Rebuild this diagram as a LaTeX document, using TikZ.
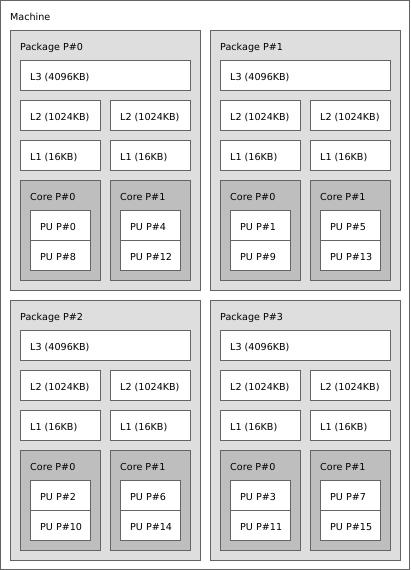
\documentclass[tikz,border=0pt]{standalone}
\usepackage{fontspec}
\setmainfont{DejaVu Sans}
\definecolor{pkgfill}{RGB}{222,222,222}
\definecolor{corefill}{RGB}{190,190,190}
\definecolor{edge}{RGB}{100,100,100}
\tikzset{
  obj/.style={draw=edge, line width=1pt, rectangle, inner sep=0pt, outer sep=0pt, anchor=north west},
  machinebox/.style={obj, fill=white, minimum width=409pt, minimum height=569pt},
  pkgbox/.style={obj, fill=pkgfill, minimum width=190pt, minimum height=260pt},
  l3box/.style={obj, fill=white, minimum width=170pt, minimum height=30pt},
  cachebox/.style={obj, fill=white, minimum width=80pt, minimum height=30pt},
  corebox/.style={obj, fill=corefill, minimum width=80pt, minimum height=100pt},
  pubox/.style={obj, fill=white, minimum width=60pt, minimum height=30pt},
  lbl/.style={anchor=base west, inner sep=0pt, font=\fontsize{9.6}{11}\selectfont, text=black}
}
\newcommand\drawcore[5]{% #1 name, #2 X, #3 Y, #4 core num, #5 first PU
  \node[corebox] (#1) at (#2+0.5,#3+0.5) {};
  \node[lbl] (#1-t) at (#2+10,#3+20) {Core P\##4};
  \node[pubox] (#1-pua) at (#2+10.5,#3+30.5) {};
  \node[lbl] (#1-pua-t) at (#2+20,#3+50) {PU P\##5};
  \node[pubox] (#1-pub) at (#2+10.5,#3+60.5) {};
  \node[lbl] (#1-pub-t) at (#2+20,#3+80) {PU P\#\the\numexpr#5+8\relax};
}
\newcommand\drawpkg[3]{% #1 num, #2 X, #3 Y
  \node[pkgbox] (p#1) at (#2+0.5,#3+0.5) {};
  \node[lbl] (p#1-t) at (#2+10,#3+20) {Package P\##1};
  \node[l3box] (p#1-l3) at (#2+10.5,#3+30.5) {};
  \node[lbl] (p#1-l3-t) at (#2+20,#3+50) {L3 (4096KB)};
  \node[cachebox] (p#1-l2a) at (#2+10.5,#3+70.5) {};
  \node[lbl] (p#1-l2a-t) at (#2+20,#3+90) {L2 (1024KB)};
  \node[cachebox] (p#1-l2b) at (#2+100.5,#3+70.5) {};
  \node[lbl] (p#1-l2b-t) at (#2+110,#3+90) {L2 (1024KB)};
  \node[cachebox] (p#1-l1a) at (#2+10.5,#3+110.5) {};
  \node[lbl] (p#1-l1a-t) at (#2+20,#3+130) {L1 (16KB)};
  \node[cachebox] (p#1-l1b) at (#2+100.5,#3+110.5) {};
  \node[lbl] (p#1-l1b-t) at (#2+110,#3+130) {L1 (16KB)};
  \drawcore{p#1-c0}{#2+10}{#3+150}{0}{#1}
  \drawcore{p#1-c1}{#2+100}{#3+150}{1}{\the\numexpr#1+4\relax}
}
\begin{document}
\begin{tikzpicture}[x=1pt,y=-1pt]
  \useasboundingbox (0,0) rectangle (410,570);
  \node[machinebox] (machine) at (0.5,0.5) {};
  \node[lbl] (machine-t) at (10,20) {Machine};
  \drawpkg{0}{10}{30}
  \drawpkg{1}{210}{30}
  \drawpkg{2}{10}{300}
  \drawpkg{3}{210}{300}
\end{tikzpicture}
\end{document}
